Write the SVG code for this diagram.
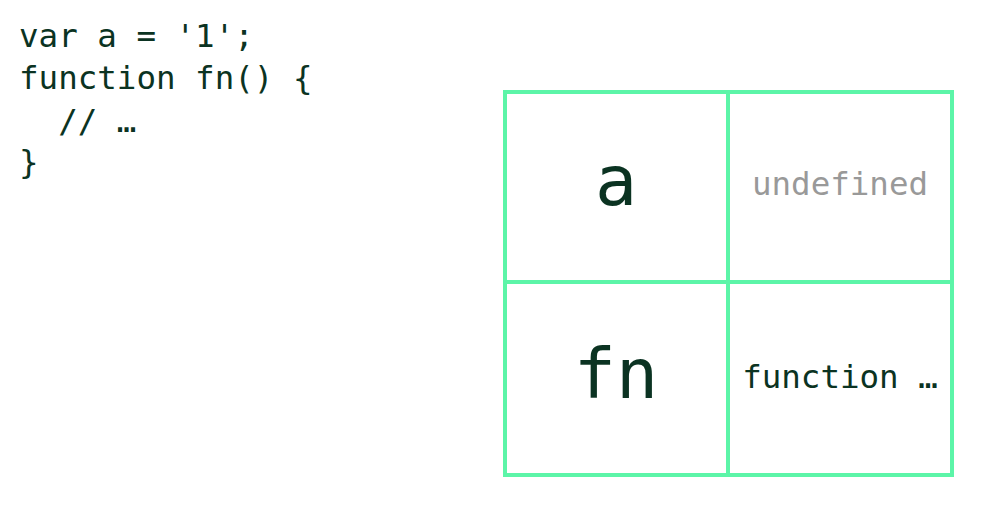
<svg xmlns="http://www.w3.org/2000/svg" width="995" height="505" viewBox="0 0 995 505">
<style>
.code{font-family:"DejaVu Sans Mono","Liberation Mono",monospace;fill:#0b3322;font-size:32.5px}
.big{font-family:"DejaVu Sans Mono","Liberation Mono",monospace;fill:#0b3322;font-size:70px;text-anchor:middle}
.val{font-family:"DejaVu Sans Mono","Liberation Mono",monospace;font-size:32.5px;text-anchor:middle}
.cell{fill:none;stroke:#5cf5a8;stroke-width:4}
</style>
<rect width="995" height="505" fill="#ffffff"/>
<g id="code">
<text class="code" x="19" y="47" xml:space="preserve">var a = '1';</text>
<text class="code" x="19" y="89" xml:space="preserve">function fn() {</text>
<text class="code" x="19" y="132" xml:space="preserve">  // …</text>
<text class="code" x="19" y="173" xml:space="preserve">}</text>
</g>
<g id="cell-a">
<rect class="cell" x="505" y="92" width="223" height="190"/>
<text class="big" x="616" y="205">a</text>
</g>
<g id="cell-undefined">
<rect class="cell" x="728" y="92" width="224" height="190"/>
<text class="val" x="840" y="195" fill="#999999">undefined</text>
</g>
<g id="cell-fn">
<rect class="cell" x="505" y="282" width="223" height="193"/>
<text class="big" x="616" y="398">fn</text>
</g>
<g id="cell-function">
<rect class="cell" x="728" y="282" width="224" height="193"/>
<text class="val" x="840" y="388" fill="#0b3322">function …</text>
</g>
<g id="connectors"/>
</svg>
